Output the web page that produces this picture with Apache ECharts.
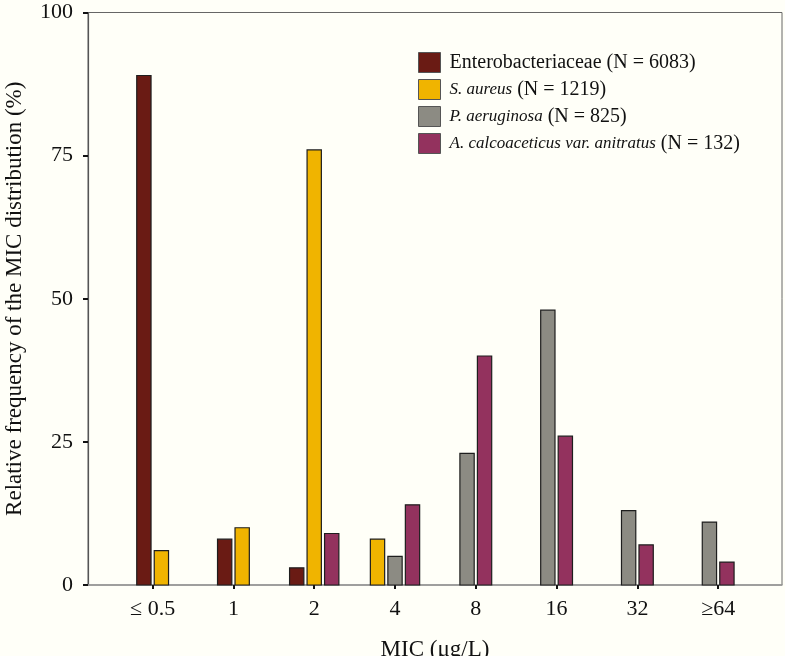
<!DOCTYPE html>
<html>
<head>
<meta charset="utf-8">
<script src="https://cdn.jsdelivr.net/npm/echarts@6/dist/echarts.min.js"></script>
<style>
html,body{margin:0;padding:0;background:#fffff8;}
#chart{width:785px;height:656px;}
</style>
</head>
<body>
<div id="chart"></div>
<script>
const categories = ['≤ 0.5', '1', '2', '4', '8', '16', '32', '≥64'];
const seriesNames = ['Enterobacteriaceae', 'S. aureus', 'P. aeruginosa', 'A. calcoaceticus var. anitratus'];
const seriesN = [6083, 1219, 825, 132];
const enterobacteriaceae = [89, 8, 3, null, null, null, null, null];
const sAureus = [6, 10, 76, 8, null, null, null, null];
const pAeruginosa = [null, null, null, 5, 23, 48, 13, 11];
const aCalcoaceticus = [null, null, 9, 14, 40, 26, 7, 4];
const yTicks = [0, 25, 50, 75, 100];

const allSeries = [enterobacteriaceae, sAureus, pAeruginosa, aCalcoaceticus];
const colors = ['#6a1b14', '#f0b400', '#8c8b83', '#93325e'];
const italicName = [false, true, true, true];

const FONT = 'Liberation Serif';
const PITCH = 0.2166, BARW = 0.177;

function renderItem(params, api) {
  const ci = api.value(0);
  const val = api.value(1);
  const present = [];
  allSeries.forEach((s, i) => { if (s[ci] != null) present.push(i); });
  const pos = present.indexOf(params.seriesIndex);
  const n = present.length;
  const center = ci + (pos - (n - 1) / 2) * PITCH;
  const p1 = api.coord([center - BARW / 2, val]);
  const p2 = api.coord([center + BARW / 2, 0]);
  return {
    type: 'rect',
    shape: { x: p1[0], y: p1[1], width: p2[0] - p1[0], height: p2[1] - p1[1] },
    style: { fill: colors[params.seriesIndex], stroke: '#1e1e1e', lineWidth: 1.2 }
  };
}

const series = allSeries.map((arr, i) => ({
  name: seriesNames[i],
  type: 'custom',
  renderItem: renderItem,
  itemStyle: { color: colors[i], borderColor: '#444', borderWidth: 1 },
  encode: { x: 0, y: 1 },
  data: arr.map((v, ci) => v == null ? null : [ci, v]).filter(d => d)
}));

const chart = echarts.init(document.getElementById('chart'), null, { renderer: 'canvas' });
chart.setOption({
  backgroundColor: '#fffff8',
  animation: false,
  textStyle: { fontFamily: FONT },
  grid: {
    left: 88, top: 12.5, right: 3, bottom: 71,
    outerBoundsMode: 'none',
    containLabel: false,
    show: true, borderColor: '#666', borderWidth: 1, backgroundColor: '#fffff8'
  },
  legend: {
    orient: 'vertical',
    left: 418, top: 52,
    padding: 0,
    itemWidth: 22, itemHeight: 20, itemGap: 6,
    icon: 'rect',
    itemStyle: { borderColor: '#555', borderWidth: 1 },
    textStyle: {
      fontFamily: FONT, fontSize: 20, color: '#111', lineHeight: 20, padding: [0, 0, 0, 4],
      rich: {
        i: { fontFamily: FONT, fontSize: 17, fontStyle: 'italic', color: '#111', lineHeight: 20 },
        n: { fontFamily: FONT, fontSize: 20, color: '#111', lineHeight: 20 }
      }
    },
    formatter: function (name) {
      const i = seriesNames.indexOf(name);
      if (italicName[i]) return '{i|' + name + '}{n| (N = ' + seriesN[i] + ')}';
      return name + ' (N = ' + seriesN[i] + ')';
    },
    data: seriesNames
  },
  xAxis: {
    type: 'value',
    min: -0.8, max: 7.79,
    name: 'MIC (μg/L)',
    nameLocation: 'middle',
    nameGap: 53,
    nameTextStyle: { fontFamily: FONT, fontSize: 23, color: '#111' },
    splitLine: { show: false },
    axisLine: { show: true, onZero: false, lineStyle: { color: '#999', width: 1.5 } },
    axisTick: { show: true, length: 4, inside: false, lineStyle: { color: '#111', width: 2 }, customValues: [0, 1, 2, 3, 4, 5, 6, 7] },
    axisLabel: {
      customValues: [0, 1, 2, 3, 4, 5, 6, 7],
      formatter: v => categories[Math.round(v)],
      fontFamily: FONT, fontSize: 22, color: '#111', margin: 13
    }
  },
  yAxis: {
    type: 'value',
    min: 0, max: 100, interval: 25,
    name: 'Relative frequency of the MIC distribution (%)',
    nameLocation: 'middle',
    nameGap: 62,
    nameTextStyle: { fontFamily: FONT, fontSize: 23, color: '#111' },
    splitLine: { show: false },
    axisLine: { show: true, onZero: false, lineStyle: { color: '#555', width: 1.2 } },
    axisTick: { show: true, length: 5, lineStyle: { color: '#111', width: 2 } },
    axisLabel: {
      formatter: v => yTicks.indexOf(v) >= 0 ? String(v) : '',
      fontFamily: FONT, fontSize: 22, color: '#111', margin: 15
    }
  },
  series: series
});
</script>
</body>
</html>
